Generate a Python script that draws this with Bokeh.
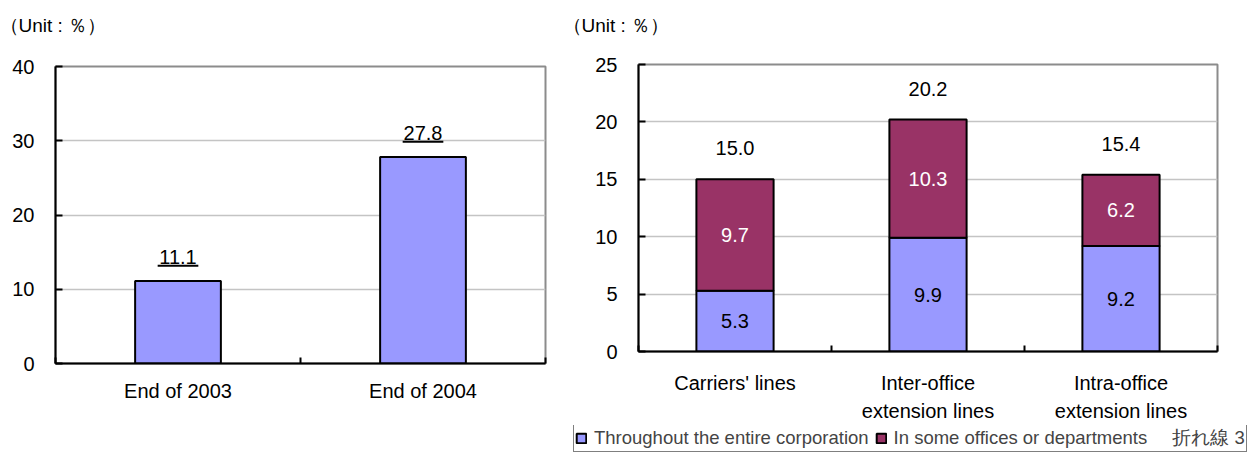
from bokeh.plotting import figure
from bokeh.models import (ColumnDataSource, FixedTicker, Label, Legend, LegendItem, Range1d)
from bokeh.layouts import row, column
from bokeh.embed import file_html
from bokeh.resources import INLINE
from bokeh.core.properties import value

FONT = "Liberation Sans"

# ---- data ----
years = ["End of 2003", "End of 2004"]
adoption = [11.1, 27.8]

line_types = ["Carriers' lines", "Inter-office\nextension lines", "Intra-office\nextension lines"]
entire_corp = [5.3, 9.9, 9.2]
some_offices = [9.7, 10.3, 6.2]
totals = [15.0, 20.2, 15.4]

left_ticks = [0, 10, 20, 30, 40]
right_ticks = [0, 5, 10, 15, 20, 25]
unit_text = "（Unit : ％）"
legend_labels = ["Throughout the entire corporation", "In some offices or departments", "折れ線 3"]

BLUE = "#9999FF"
MAROON = "#993366"


def style(p, yticks, cats):
    n = len(cats)
    centers = [i + 0.5 for i in range(n)]
    p.outline_line_color = "#8C8C8C"
    p.outline_line_width = 2
    p.xgrid.visible = False
    p.ygrid.ticker = FixedTicker(ticks=yticks)
    p.ygrid.grid_line_color = "#C4C4C4"
    p.ygrid.grid_line_width = 1.5
    p.background_fill_color = "white"
    p.border_fill_color = "white"

    xa = p.xaxis[0]
    xa.ticker = FixedTicker(ticks=centers, minor_ticks=list(range(n + 1)))
    xa.major_label_overrides = {c: lab for c, lab in zip(centers, cats)}
    xa.axis_line_color = "black"
    xa.axis_line_width = 2
    xa.major_tick_line_color = None
    xa.minor_tick_line_color = "black"
    xa.minor_tick_line_width = 2
    xa.minor_tick_in = 6
    xa.minor_tick_out = 0
    xa.major_label_text_font = FONT
    xa.major_label_text_font_size = "20px"
    xa.major_label_text_color = "black"
    xa.major_label_text_line_height = 1.3

    ya = p.yaxis[0]
    ya.ticker = FixedTicker(ticks=yticks)
    ya.axis_line_color = "black"
    ya.axis_line_width = 2
    ya.major_tick_line_color = "black"
    ya.major_tick_line_width = 2
    ya.major_tick_in = 7
    ya.major_tick_out = 0
    ya.minor_tick_line_color = None
    ya.major_label_text_font = FONT
    ya.major_label_text_font_size = "20px"
    ya.major_label_text_color = "black"
    ya.major_label_standoff = 21
    return centers


def strip(width, height):
    s = figure(width=width, height=height, x_range=Range1d(0, 1), y_range=Range1d(0, 1),
               output_backend="svg", toolbar_location=None,
               x_axis_location=None, y_axis_location=None, min_border=0)
    s.grid.visible = False
    s.outline_line_color = None
    s.background_fill_color = "white"
    s.border_fill_color = "white"
    return s


# ---- top strip with the unit notes ----
tf = strip(1250, 40)
for sx in (-1, 562):
    tf.add_layout(Label(x=sx, y=15, x_units="screen", y_units="screen", text=unit_text,
                        text_font=FONT, text_font_size="19px", text_baseline="middle",
                        text_color="black"))

# ---- left chart ----
p1 = figure(width=570, height=385, x_range=Range1d(0, len(years)),
            y_range=Range1d(left_ticks[0], left_ticks[-1]),
            output_backend="svg", toolbar_location=None,
            min_border_left=55, min_border_right=25, min_border_top=26, min_border_bottom=62)
xs1 = style(p1, left_ticks, years)
p1.xaxis[0].major_label_standoff = 10

src1 = ColumnDataSource(dict(x=xs1, top=adoption,
                             label=["%.1f" % v for v in adoption],
                             ul=[v + 2.05 for v in adoption],
                             x0=[x - 0.083 for x in xs1], x1=[x + 0.083 for x in xs1]))
p1.vbar(x="x", top="top", bottom=0, width=0.35, source=src1,
        fill_color=BLUE, line_color="black", line_width=2)
p1.text(x="x", y="top", text="label", source=src1, y_offset=-24,
        text_align="center", text_baseline="middle",
        text_font=value(FONT), text_font_size="20px", text_color="black")
p1.segment(x0="x0", x1="x1", y0="ul", y1="ul", source=src1, line_color="black", line_width=2)

# ---- right chart ----
p2 = figure(width=680, height=385, x_range=Range1d(0, len(line_types)),
            y_range=Range1d(right_ticks[0], right_ticks[-1]),
            output_backend="svg", toolbar_location=None,
            min_border_left=68, min_border_right=33, min_border_top=24, min_border_bottom=74)
xs2 = style(p2, right_ticks, line_types)
p2.xaxis[0].major_label_standoff = 14

stack_top = [a + b for a, b in zip(entire_corp, some_offices)]
src2 = ColumnDataSource(dict(x=xs2, a=entire_corp, b=some_offices, top=stack_top,
                             mid_a=[a / 2 for a in entire_corp],
                             mid_b=[a + b / 2 for a, b in zip(entire_corp, some_offices)],
                             la=["%.1f" % v for v in entire_corp],
                             lb=["%.1f" % v for v in some_offices],
                             tot=totals, lt=["%.1f" % v for v in totals]))
p2.vbar(x="x", bottom=0, top="a", width=0.4, source=src2,
        fill_color=BLUE, line_color="black", line_width=2)
p2.vbar(x="x", bottom="a", top="top", width=0.4, source=src2,
        fill_color=MAROON, line_color="black", line_width=2)

p2.text(x="x", y="mid_a", text="la", source=src2, text_align="center", text_baseline="middle",
        text_font=value(FONT), text_font_size="20px", text_color="black")
p2.text(x="x", y="mid_b", text="lb", source=src2, text_align="center", text_baseline="middle",
        text_font=value(FONT), text_font_size="20px", text_color="white")
p2.text(x="x", y="tot", text="lt", source=src2, y_offset=-31, text_align="center",
        text_baseline="middle", text_font=value(FONT), text_font_size="20px", text_color="black")

# ---- legend strip (full width) ----
lf = strip(1250, 27)
g_a = lf.vbar(x=xs2, top=entire_corp, width=0.4, fill_color=BLUE, line_color="black",
              line_width=2, visible=False)
g_b = lf.vbar(x=xs2, top=some_offices, width=0.4, fill_color=MAROON, line_color="black",
              line_width=2, visible=False)
g_c = lf.line(x=xs2, y=totals, line_color=None, visible=False)

legend = Legend(items=[LegendItem(label=legend_labels[0], renderers=[g_a]),
                       LegendItem(label=legend_labels[1], renderers=[g_b]),
                       LegendItem(label=legend_labels[2], renderers=[g_c])],
                orientation="horizontal", location=(573, 0),
                border_line_color="black", border_line_width=1.5,
                background_fill_color="white", background_fill_alpha=1,
                padding=1, spacing=6, margin=0,
                glyph_width=12, glyph_height=12, label_standoff=7,
                label_text_font=FONT, label_text_font_size="18.5px",
                label_height=16, label_text_baseline="middle")
lf.add_layout(legend, "center")

layout = column(tf, row(column(p1), column(p2), spacing=0), lf, spacing=0)
open("out.html", "w").write(file_html(layout, INLINE))
